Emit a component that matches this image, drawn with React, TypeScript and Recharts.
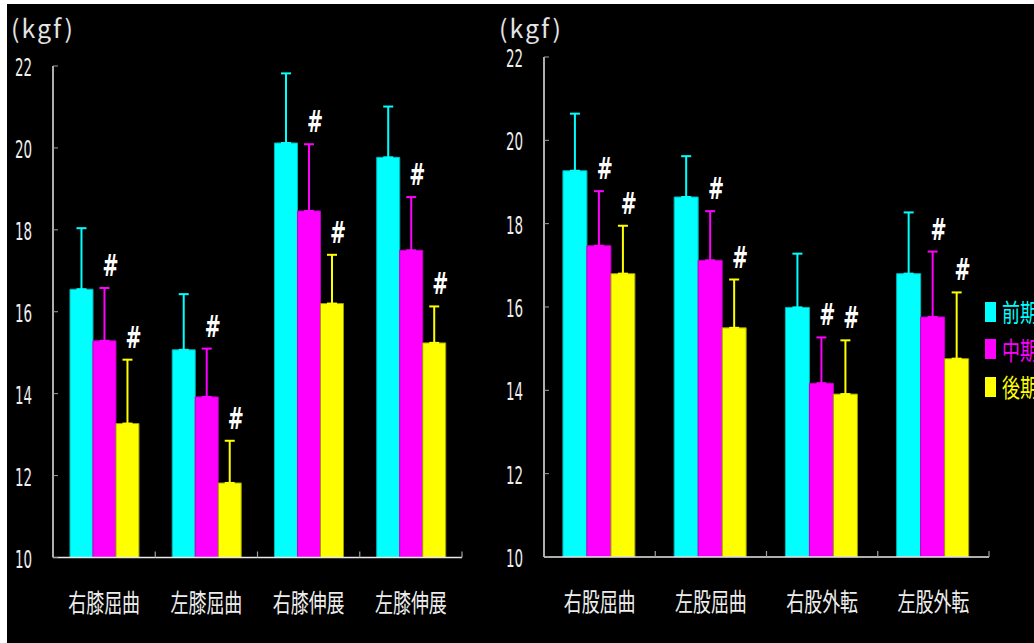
import React from "react";
import { BarChart, Bar, XAxis, YAxis, ErrorBar, LabelList, Legend } from "recharts";

const seriesNames = ["前期", "中期", "後期"];
const seriesColors = ["#00ffff", "#ff00ff", "#ffff00"];
const seriesEdges = ["#00b8b8", "#c000c0", "#a0a000"];
const yTicks = [10, 12, 14, 16, 18, 20, 22];
const Y_MIN = 10;
const Y_MAX = 22;

// knee
const kneeCats = ["右膝屈曲", "左膝屈曲", "右膝伸展", "左膝伸展"];
const kneeEarly = [16.55, 15.07, 20.12, 19.77];
const kneeEarlyErr = [1.49, 1.36, 1.7, 1.24];
const kneeMid = [15.29, 13.92, 18.46, 17.5];
const kneeMidErr = [1.29, 1.18, 1.63, 1.3];
const kneeLate = [13.27, 11.82, 16.2, 15.24];
const kneeLateErr = [1.56, 1.03, 1.19, 0.89];
const kneeMidSig = ["#", "#", "#", "#"];
const kneeLateSig = ["#", "#", "#", "#"];

// hip
const hipCats = ["右股屈曲", "左股屈曲", "右股外転", "左股外転"];
const hipEarly = [19.27, 18.64, 15.99, 16.8];
const hipEarlyErr = [1.37, 0.98, 1.29, 1.47];
const hipMid = [17.47, 17.12, 14.17, 15.76];
const hipMidErr = [1.31, 1.18, 1.1, 1.57];
const hipLate = [16.8, 15.5, 13.91, 14.76];
const hipLateErr = [1.15, 1.16, 1.29, 1.59];
const hipMidSig = ["#", "#", "#", "#"];
const hipLateSig = ["#", "#", "#", "#"];

const buildRows = (cats: string[], e: number[], ee: number[], m: number[], me: number[], l: number[], le: number[]) =>
  cats.map((name, i) => ({
    name,
    early: e[i],
    earlyErr: [0, ee[i]],
    mid: m[i],
    midErr: [0, me[i]],
    late: l[i],
    lateErr: [0, le[i]],
  }));

const YTick = (props: any) => {
  const { x, y, payload } = props;
  return (
    <g>
      <line x1={x} x2={x + 5} y1={y} y2={y} stroke="#a0a0a0" strokeWidth={1} />
      <text
        transform={`translate(${x - 21},${y + 10}) scale(0.56,1)`}
        textAnchor="end"
        fill="#eeeeee"
        fontSize={24}
        fontFamily="DejaVu Sans"
      >
        {payload.value}
      </text>
    </g>
  );
};

const makeXTick = (half: number) => (props: any) => {
  const { x, y, payload } = props;
  return (
    <g>
      <line x1={x + half} x2={x + half} y1={y} y2={y - 6} stroke="#a0a0a0" strokeWidth={1.2} />
      <text
        transform={`translate(${x},${y + 54}) scale(0.72,1)`}
        textAnchor="middle"
        fill="#eeeeee"
        fontSize={25}
        fontFamily="Noto Sans CJK JP"
      >
        {payload.value}
      </text>
    </g>
  );
};

const hashLabel = (errs: number[], sigs: string[]) => (props: any) => {
  const vb = props.viewBox || {};
  const x = props.x ?? vb.x;
  const y = props.y ?? vb.y;
  const width = props.width ?? vb.width;
  const height = props.height ?? vb.height;
  const { value, index } = props;
  const sig = sigs[index];
  if (!sig) return null;
  const pxPerUnit = height / (Number(value) - Y_MIN);
  const top = y - errs[index] * pxPerUnit;
  return (
    <text
      transform={`translate(${x + width / 2 + 6},${top - 12}) scale(0.64,1)`}
      textAnchor="middle"
      fill="#ffffff"
      fontSize={30}
      fontWeight="bold"
      fontFamily="DejaVu Sans"
    >
      {sig}
    </text>
  );
};

const LegendBox = (props: any) => {
  const items = [...(props.payload || [])].sort(
    (a: any, b: any) => seriesNames.indexOf(a.value) - seriesNames.indexOf(b.value)
  );
  return (
    <div>
      {items.map((it: any, i: number) => (
        <div key={i} style={{ height: 37.5, display: "flex", alignItems: "center" }}>
          <div style={{ width: 11, height: 20, background: it.color }} />
          <div
            style={{
              marginLeft: 6,
              color: it.color,
              fontSize: 25,
              fontFamily: "Noto Sans CJK JP",
              transform: "scaleX(0.72)",
              transformOrigin: "left center",
              whiteSpace: "nowrap",
              lineHeight: "37px",
            }}
          >
            {it.value}
          </div>
        </div>
      ))}
    </div>
  );
};

type PanelProps = {
  rows: any[];
  midErr: number[];
  lateErr: number[];
  midSig: string[];
  lateSig: string[];
  left: number;
  width: number;
  top: number;
  right: number;
  bottom: number;
  yWidth: number;
  gap: string;
  legend?: boolean;
};

function Panel(p: PanelProps) {
  const plotW = p.width - p.right - p.yWidth;
  const half = plotW / p.rows.length / 2;
  return (
    <div style={{ position: "absolute", left: p.left, top: 0 }}>
      <BarChart
        width={p.width}
        height={643}
        data={p.rows}
        margin={{ top: p.top, right: p.right, left: 0, bottom: p.bottom }}
        barGap={0}
        barCategoryGap={p.gap}
      >
        <XAxis
          dataKey="name"
          axisLine={{ stroke: "#e8e8e8", strokeWidth: 1.5 }}
          tickLine={false}
          tickSize={0}
          tickMargin={0}
          interval={0}
          tick={makeXTick(half)}
          height={30}
        />
        <YAxis
          domain={[Y_MIN, Y_MAX]}
          ticks={yTicks}
          interval={0}
          width={p.yWidth}
          axisLine={{ stroke: "#e8e8e8", strokeWidth: 1.5 }}
          tickLine={false}
          tickSize={0}
          tickMargin={0}
          tick={YTick}
          allowDataOverflow
        />
        {p.legend && (
          <Legend
            layout="vertical"
            align="center"
            verticalAlign="middle"
            content={LegendBox}
            wrapperStyle={{ position: "absolute", left: 985 - p.left, top: 293, width: 80 }}
          />
        )}
        <Bar dataKey="early" name={seriesNames[0]} fill={seriesColors[0]} stroke={seriesEdges[0]} strokeWidth={1} isAnimationActive={false}>
          <ErrorBar dataKey="earlyErr" direction="y" width={5} strokeWidth={2} stroke={seriesColors[0]} isAnimationActive={false} />
        </Bar>
        <Bar dataKey="mid" name={seriesNames[1]} fill={seriesColors[1]} stroke={seriesEdges[1]} strokeWidth={1} isAnimationActive={false}>
          <ErrorBar dataKey="midErr" direction="y" width={5} strokeWidth={2} stroke={seriesColors[1]} isAnimationActive={false} />
          <LabelList dataKey="mid" content={hashLabel(p.midErr, p.midSig)} />
        </Bar>
        <Bar dataKey="late" name={seriesNames[2]} fill={seriesColors[2]} stroke={seriesEdges[2]} strokeWidth={1} isAnimationActive={false}>
          <ErrorBar dataKey="lateErr" direction="y" width={5} strokeWidth={2} stroke={seriesColors[2]} isAnimationActive={false} />
          <LabelList dataKey="late" content={hashLabel(p.lateErr, p.lateSig)} />
        </Bar>
      </BarChart>
    </div>
  );
}

const titleStyle: React.CSSProperties = {
  position: "absolute",
  top: 12,
  color: "#e4e4e4",
  fontSize: 25,
  fontFamily: "Noto Sans CJK JP",
  letterSpacing: 2,
  lineHeight: "30px",
};

export default function App() {
  const kneeRows = buildRows(kneeCats, kneeEarly, kneeEarlyErr, kneeMid, kneeMidErr, kneeLate, kneeLateErr);
  const hipRows = buildRows(hipCats, hipEarly, hipEarlyErr, hipMid, hipMidErr, hipLate, hipLateErr);
  return (
    <div style={{ position: "absolute", left: 0, top: 0, width: 1034, height: 643, overflow: "hidden", background: "#fff" }}>
      <div style={{ position: "absolute", left: 7, top: 4, width: 1027, height: 639, background: "#000" }} />
      <div style={{ ...titleStyle, left: 11 }}>(kgf)</div>
      <div style={{ ...titleStyle, left: 499 }}>(kgf)</div>
      <Panel
        rows={kneeRows}
        midErr={kneeMidErr}
        lateErr={kneeLateErr}
        midSig={kneeMidSig}
        lateSig={kneeLateSig}
        left={0}
        width={500}
        top={66}
        right={38}
        bottom={55.5}
        yWidth={53}
        gap="16.6%"
      />
      <Panel
        rows={hipRows}
        midErr={hipMidErr}
        lateErr={hipLateErr}
        midSig={hipMidSig}
        lateSig={hipLateSig}
        left={490}
        width={544}
        top={57}
        right={45}
        bottom={56}
        yWidth={54}
        gap="17%"
        legend
      />
    </div>
  );
}
